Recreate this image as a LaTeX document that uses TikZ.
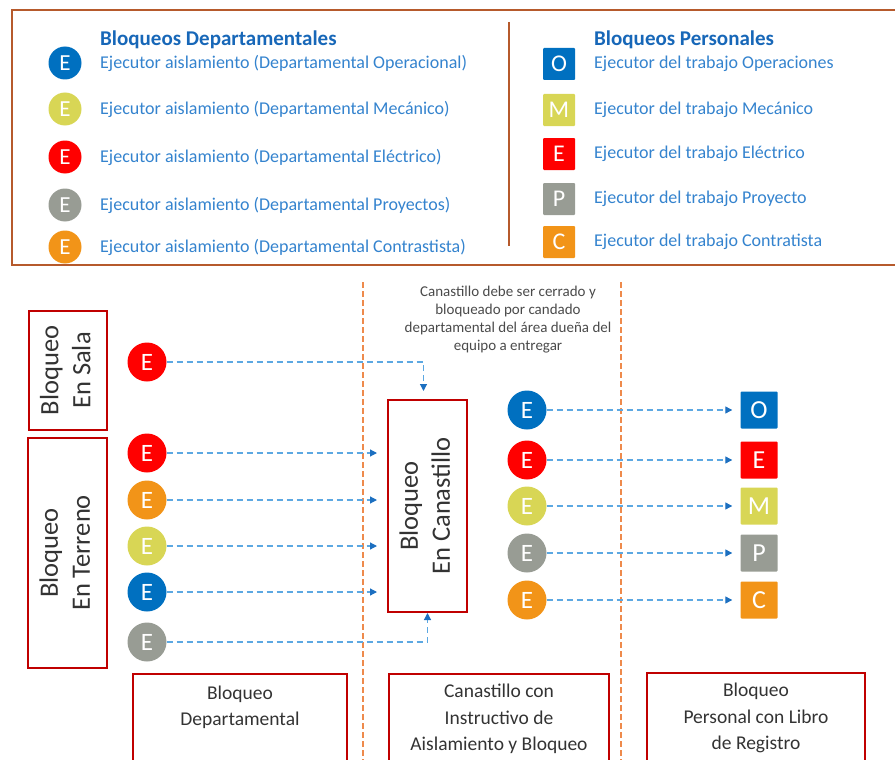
\documentclass[tikz,border=0pt]{standalone}
\usepackage{fontspec}
\usepackage{graphicx}
\setmainfont{Carlito}
\usetikzlibrary{positioning,arrows.meta,calc}
\definecolor{frame}{HTML}{B65A2C}
\definecolor{boxred}{HTML}{C00000}
\definecolor{title}{HTML}{1767B8}
\definecolor{item}{HTML}{3483CE}
\definecolor{ink}{HTML}{333333}
\definecolor{notegray}{HTML}{4A4A4A}
\definecolor{cblue}{HTML}{0070C0}
\definecolor{cyellow}{HTML}{D8D655}
\definecolor{cred}{HTML}{FF0000}
\definecolor{cgray}{HTML}{989C94}
\definecolor{corange}{HTML}{F29418}
\definecolor{flowline}{HTML}{5CA8E2}
\definecolor{flowtip}{HTML}{1C6FC0}
\definecolor{sepline}{HTML}{EE8A4C}

\begin{document}
\begin{tikzpicture}[x=1pt, y=-1pt,
  dot/.style={circle, fill=#1, text=white, minimum size=33pt, inner sep=0pt,
    font=\fontsize{23}{23}\selectfont},
  bigdot/.style={dot=#1, minimum size=39pt, font=\fontsize{25}{25}\selectfont},
  tag/.style={rectangle, rounded corners=1pt, fill=#1, text=white, minimum size=32pt,
    inner sep=0pt, font=\fontsize{24}{24}\selectfont},
  bigtag/.style={tag=#1, minimum size=37pt, font=\fontsize{26}{26}\selectfont},
  key/.style={anchor=west, text=item, inner sep=0pt, font=\fontsize{18}{18}\selectfont},
  head/.style={anchor=west, text=title, inner sep=0pt, font=\bfseries\fontsize{21}{21}\selectfont},
  stage/.style={draw=boxred, line width=2pt, inner sep=0pt, text=ink,
    font=\fontsize{26.5}{32}\selectfont},
  caption/.style={draw=boxred, line width=2pt, anchor=north, align=center, text=ink,
    minimum height=90pt, font=\fontsize{19.5}{26.5}\selectfont},
  flow/.style={draw=flowline, line width=1.2pt, dash pattern=on 6pt off 4pt,
    -{Triangle[color=flowtip, length=7pt, width=7pt]}},
  sep/.style={draw=sepline, line width=1.2pt, dash pattern=on 6pt off 3pt}]
\useasboundingbox (0,0) rectangle (895,760);

% legend
\draw[frame, line width=2.5pt] (895,10) -- (12,10) -- (12,265) -- (895,265);
\draw[frame, line width=2pt] (509,22) -- (509,246);
\node[head] (hdep) at (100,40) {Bloqueos Departamentales};
\foreach \y/\c/\t [count=\i] in {63/cblue/Operacional, 109/cyellow/Mecánico,
    157/cred/Eléctrico, 205/cgray/Proyectos, 247/corange/Contrastista} {
  \node[dot=\c] (ld\i) at (65,\y) {E};
  \node[key] (lt\i) at (100,\y) {Ejecutor aislamiento (Departamental \t)};
}
\node[head] (hper) at (594,40) {Bloqueos Personales};
\foreach \y/\c/\l/\t [count=\i] in {64/cblue/O/Operaciones, 110/cyellow/M/Mecánico,
    154/cred/E/Eléctrico, 199/cgray/P/Proyecto, 242/corange/C/Contratista} {
  \node[tag=\c] (ls\i) at (559,\y) {\l};
  \node[key] (lst\i) at (594,\y) {Ejecutor del trabajo \t};
}

% stages
\draw[sep] (363,282) -- (363,760);
\draw[sep] (621,282) -- (621,760);
\node[stage, minimum width=78pt, minimum height=119pt] (salabox) at (68,370.5)
  {\rotatebox{90}{\begin{tabular}{@{}c@{}}Bloqueo\\En Sala\end{tabular}}};
\node[stage, minimum width=79pt, minimum height=230pt] (terrbox) at (67.5,553)
  {\rotatebox{90}{\begin{tabular}{@{}c@{}}Bloqueo\\En Terreno\end{tabular}}};
\node[stage, minimum width=79pt, minimum height=212pt] (canast) at (427.5,506)
  {\rotatebox{90}{\begin{tabular}{@{}c@{}}Bloqueo\\En Canastillo\end{tabular}}};
\node[text=notegray, align=center, font=\fontsize{15}{18}\selectfont] (note) at (508,320)
  {Canastillo debe ser cerrado y\\bloqueado por candado\\departamental del área dueña del\\equipo a entregar};

\node[bigdot=cred] (sala) at (147,362) {E};
\draw[flow, shorten >=8pt] (sala) -| ([xshift=-4pt]canast.north);
\foreach \y/\c [count=\i] in {453/cred, 500/corange, 546/cyellow, 592/cblue, 642/cgray}
  \node[bigdot=\c] (t\i) at (147,\y) {E};
\foreach \i in {1,...,4}
  \draw[flow, shorten >=10pt] (t\i) -- (t\i -| canast.west);
\draw[flow] (t5) -| (canast.south);

\foreach \y/\c/\l [count=\i] in {410/cblue/O, 460/cred/E, 506/cyellow/M,
    553/cgray/P, 600/corange/C} {
  \node[bigdot=\c] (p\i) at (527,\y) {E};
  \node[bigtag=\c] (q\i) at (759,\y) {\l};
  \draw[flow, shorten >=8pt] (p\i) -- (q\i);
}

% captions
\node[caption, minimum width=214pt] (capdep) at (240,673) {Bloqueo\\Departamental\\~};
\node[caption, minimum width=220pt] (capcan) at (499,673)
  {Canastillo con\\Instructivo de\\Aislamiento y Bloqueo};
\node[caption, minimum width=218pt] (capper) at (756,672)
  {Bloqueo\\Personal con Libro\\de Registro};
\end{tikzpicture}
\end{document}
